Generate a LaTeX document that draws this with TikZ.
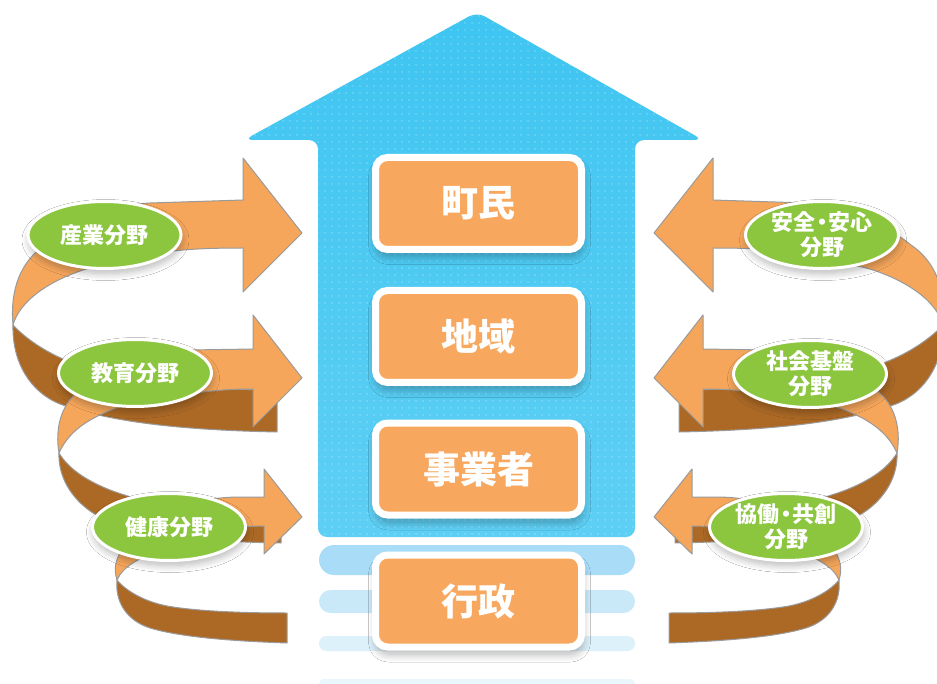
\documentclass[tikz,border=0pt]{standalone}
\usepackage{fontspec}
\newfontfamily\jp{Noto Sans CJK JP}
\usetikzlibrary{shapes.geometric,shadows.blur,patterns.meta}
\definecolor{skyA}{HTML}{3EC5F1}
\definecolor{skyB}{HTML}{5ECFF4}
\definecolor{orng}{HTML}{F7A85E}
\definecolor{ribbon}{HTML}{F5A65B}
\definecolor{brwn}{HTML}{AC6926}
\definecolor{leaf}{HTML}{8CC63F}
\definecolor{edgegray}{HTML}{9A9A9A}
\definecolor{stA}{HTML}{A9DDF7}
\definecolor{stB}{HTML}{C9E9F9}
\definecolor{stC}{HTML}{DDF1FB}
\definecolor{stD}{HTML}{E9F6FC}
\tikzdeclarepattern{name=bluedots, type=uncolored,
  bounding box={(0pt,0pt) and (7pt,7pt)}, tile size={(7pt,7pt)},
  code={\fill (3.5pt,3.5pt) circle (1.2pt);}}
\newcommand\ribbonbacks{%
  % level 1 back
  \path[back] (13,325) .. controls (25,338) and (45,352) .. (70,362)
    .. controls (120,380) and (200,390) .. (277,390) -- (277,432)
    .. controls (180,430) and (110,422) .. (60,404)
    .. controls (30,392) and (12,362) .. (13,325) -- cycle;
  % level 2 back
  \path[back] (59,453) .. controls (68,468) and (85,480) .. (110,490)
    .. controls (150,505) and (220,520) .. (281,520) -- (281,543)
    .. controls (210,542) and (130,535) .. (93,513)
    .. controls (70,498) and (58,475) .. (59,453) -- cycle;
  % level 3 back
  \path[back] (117,580) .. controls (125,590) and (145,603) .. (173,607)
    .. controls (200,611) and (240,613) .. (287,613) -- (287,643)
    .. controls (230,641) and (180,637) .. (150,628)
    .. controls (125,620) and (115,600) .. (117,580) -- cycle;
}
\newcommand\ribbonfronts{%
  % level 1 front
  \path[front] (13,325) .. controls (10,290) and (20,262) .. (45,245)
    .. controls (70,225) and (110,205) .. (150,203) -- (243,200)
    -- (243,158) -- (302,233) -- (243,292) -- (243,248)
    .. controls (200,248) and (170,250) .. (150,255)
    .. controls (120,262) and (95,266) .. (83,270)
    .. controls (50,281) and (20,300) .. (13,325) -- cycle;
  % level 2 front
  \path[front] (59,453) .. controls (55,430) and (60,405) .. (80,390)
    .. controls (110,365) and (150,352) .. (190,350) -- (253,349)
    -- (253,315) -- (302,378) -- (253,427) -- (253,389)
    .. controls (220,389) and (200,392) .. (180,396)
    .. controls (160,400) and (140,403) .. (125,405)
    .. controls (95,415) and (70,428) .. (59,453) -- cycle;
  % level 3 front
  \path[front] (117,580) .. controls (114,570) and (114,560) .. (125,545)
    .. controls (150,510) and (200,497) .. (240,497) -- (264,497)
    -- (264,469) -- (302,517) -- (264,554) -- (264,526)
    .. controls (230,526) and (190,535) .. (160,550)
    .. controls (140,558) and (123,566) .. (117,580) -- cycle;
}
\begin{document}
\begin{tikzpicture}[x=1pt,y=-1pt,
  back/.style={fill=brwn, draw=edgegray, line width=1pt, line join=round},
  front/.style={fill=ribbon, draw=edgegray, line width=1pt, line join=round},
  obox/.style={draw=white, line width=7pt, fill=orng, rounded corners=12pt,
    minimum width=206pt, minimum height=92pt, inner sep=0pt, text=white,
    font=\jp\bfseries\fontsize{37}{40}\selectfont,
    blur shadow={shadow xshift=1pt, shadow yshift=-7pt, shadow blur radius=8pt,
      shadow blur steps=10, shadow opacity=30}},
  leafbox/.style={ellipse, draw=white, line width=3pt, fill=leaf,
    minimum width=153pt, minimum height=67pt, inner sep=0pt, text=white,
    align=center, font=\jp\bfseries\fontsize{22}{25}\selectfont,
    blur shadow={shadow xshift=1pt, shadow yshift=-5pt, shadow blur radius=7pt,
      shadow blur steps=10, shadow opacity=28}}]
\useasboundingbox (0,0) rectangle (937,684);
\clip (0,0) rectangle (937,684);
\fill[white] (0,0) rectangle (937,684);
% stripes below the big arrow
\fill[stA, rounded corners=15pt] (319,545) rectangle (635,575);
\fill[stB, rounded corners=11.5pt] (319,590) rectangle (635,613);
\fill[stC, rounded corners=7.5pt] (319,636) rectangle (635,651);
\fill[stD, rounded corners=5pt] (319,679) rectangle (635,690);
% big blue arrow
\path[top color=skyA, bottom color=skyB, rounded corners=9pt]
  (318,537) -- (318,140) -- (244,140) -- (477,12) -- (703,140)
  -- (635,140) -- (635,537) -- cycle;
\fill[pattern=bluedots, pattern color=white, fill opacity=0.22, rounded corners=9pt]
  (318,537) -- (318,140) -- (244,140) -- (477,12) -- (703,140)
  -- (635,140) -- (635,537) -- cycle;
% boxes
\node[obox] (chomin) at (478.5,203.5) {町民};
\node[obox] (chiiki) at (478.5,336.5) {地域};
\node[obox] (jigyo) at (478.5,469) {事業者};
\node[obox] (gyosei) at (478.5,601) {行政};
% ribbons, left side then mirrored right side
\ribbonbacks
\begin{scope}[xshift=956pt, xscale=-1]
\ribbonbacks
\end{scope}
\ribbonfronts
\begin{scope}[xshift=956pt, xscale=-1]
\ribbonfronts
\end{scope}
% ellipses
\node[leafbox] (sangyo) at (104.5,235) {産業分野};
\node[leafbox] (kyoiku) at (135,373) {教育分野};
\node[leafbox] (kenko) at (169,527) {健康分野};
\node[leafbox] (anzen) at (822,235) {安全\kern-.2em・\kern-.2em安心\\分野};
\node[leafbox] (shakai) at (810,374) {社会基盤\\分野};
\node[leafbox] (kyodo) at (786,527) {協働\kern-.2em・\kern-.2em共創\\分野};
\end{tikzpicture}
\end{document}
